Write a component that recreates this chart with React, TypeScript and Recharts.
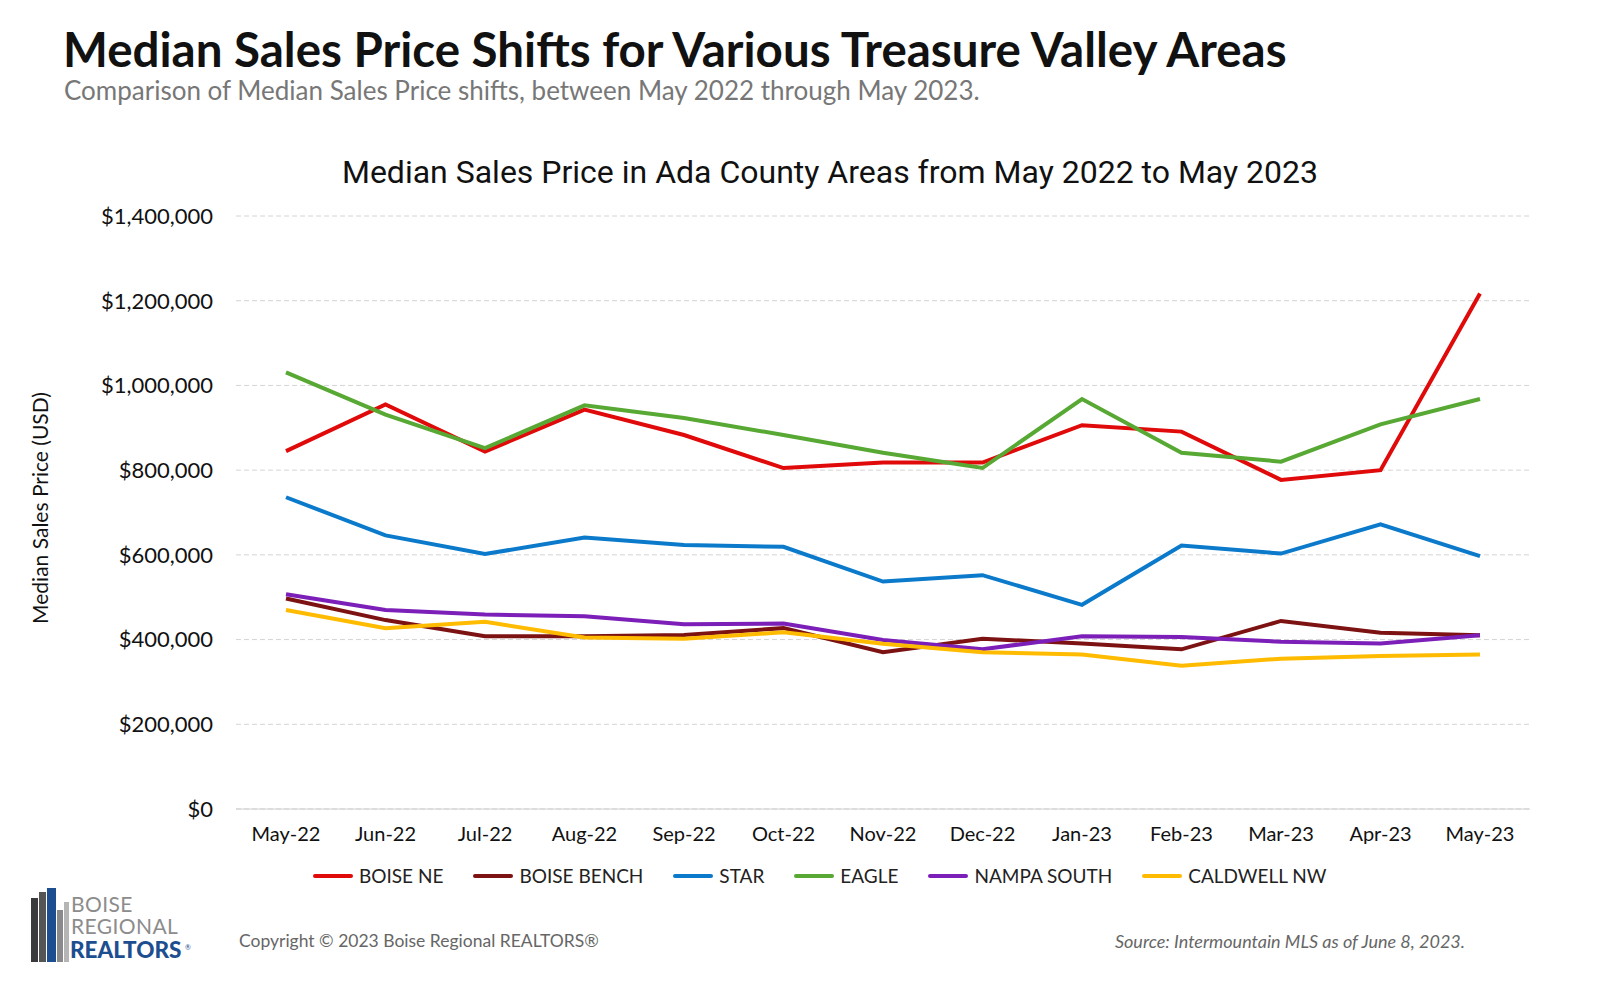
import React from 'react'
import { LineChart, Line, XAxis, YAxis, CartesianGrid } from 'recharts'

const months = ['May-22', 'Jun-22', 'Jul-22', 'Aug-22', 'Sep-22', 'Oct-22', 'Nov-22', 'Dec-22', 'Jan-23', 'Feb-23', 'Mar-23', 'Apr-23', 'May-23']

const boiseNE = [845000, 955000, 844000, 943000, 883000, 805000, 818000, 818000, 906000, 891000, 777000, 800000, 1217000]
const boiseBench = [497000, 446000, 408000, 408000, 411000, 427000, 370000, 402000, 391000, 377000, 444000, 416000, 410000]
const star = [736000, 646000, 602000, 641000, 623000, 619000, 537000, 552000, 482000, 622000, 603000, 672000, 597000]
const eagle = [1031000, 931000, 852000, 953000, 923000, 883000, 841000, 805000, 968000, 841000, 820000, 908000, 968000]
const nampaSouth = [507000, 470000, 459000, 455000, 436000, 438000, 399000, 377000, 408000, 406000, 395000, 391000, 410000]
const caldwellNW = [470000, 427000, 442000, 405000, 402000, 417000, 390000, 370000, 365000, 338000, 355000, 361000, 365000]

const yTicks = [0, 200000, 400000, 600000, 800000, 1000000, 1200000, 1400000]

const series = [
    { key: 'boiseNE', name: 'BOISE NE', color: '#e00a0a', values: boiseNE },
    { key: 'boiseBench', name: 'BOISE BENCH', color: '#7d1212', values: boiseBench },
    { key: 'star', name: 'STAR', color: '#0b7acb', values: star },
    { key: 'eagle', name: 'EAGLE', color: '#58a834', values: eagle },
    { key: 'nampaSouth', name: 'NAMPA SOUTH', color: '#7b1fb8', values: nampaSouth },
    { key: 'caldwellNW', name: 'CALDWELL NW', color: '#ffbb00', values: caldwellNW },
]

const data = months.map((m, i) => {
    const row: any = { month: m }
    series.forEach(s => { row[s.key] = s.values[i] })
    return row
})

const money = (v: number) => '$' + v.toLocaleString('en-US')

function Logo() {
    return (
        <svg width={180} height={80} style={{ position: 'absolute', left: 28, top: 888 }}>
            <rect x={3} y={10} width={7} height={64} fill="#3a3a3a" />
            <rect x={11} y={4} width={7} height={70} fill="#555" />
            <rect x={19} y={0} width={9} height={74} fill="#1d4e8f" />
            <rect x={29} y={22} width={6} height={52} fill="#8a8a8a" />
            <rect x={36} y={14} width={5} height={60} fill="#b5b5b5" />
            <text x={43} y={24} fontFamily="Lato" fontSize={21} letterSpacing={0.4} fill="#8c8c8c">BOISE</text>
            <text x={43} y={46} fontFamily="Lato" fontSize={21} letterSpacing={0.4} fill="#8c8c8c">REGIONAL</text>
            <text x={42} y={70} fontFamily="Lato" fontWeight={900} fontSize={22.5} fill="#1d4e8f">REALTORS</text>
            <text x={157} y={62} fontFamily="Lato" fontSize={7} fill="#1d4e8f">®</text>
        </svg>
    )
}

export default function App() {
    return (
        <div style={{ position: 'absolute', left: 0, top: 0, width: 1597, height: 985, background: '#fff', fontFamily: 'Lato, sans-serif', overflow: 'hidden' }}>
            <div style={{ position: 'absolute', left: 63, top: 20, fontSize: 47.5, fontWeight: 700, color: '#111', whiteSpace: 'nowrap' }}>
                Median Sales Price Shifts for Various Treasure Valley Areas
            </div>
            <div style={{ position: 'absolute', left: 64, top: 74, fontSize: 26, color: '#777', whiteSpace: 'nowrap' }}>
                Comparison of Median Sales Price shifts, between May 2022 through May 2023.
            </div>
            <div style={{ position: 'absolute', left: 0, width: 1660, top: 153, textAlign: 'center', fontFamily: 'Roboto', fontSize: 32, color: '#111', whiteSpace: 'nowrap' }}>
                Median Sales Price in Ada County Areas from May 2022 to May 2023
            </div>
            <div style={{ position: 'absolute', left: 39, top: 508, transform: 'translate(-50%, -50%) rotate(-90deg)', fontSize: 21, color: '#111', whiteSpace: 'nowrap' }}>
                Median Sales Price (USD)
            </div>

            <div style={{ position: 'absolute', left: 0, top: 0 }}>
                <LineChart width={1597} height={860} data={data} margin={{ top: 216, right: 67, bottom: 21, left: 36 }}>
                    <CartesianGrid horizontal vertical={false} stroke="#d4d4d4" strokeDasharray="5 3" />
                    <XAxis
                        dataKey="month"
                        padding={{ left: 50, right: 50 }}
                        axisLine={{ stroke: '#d0d0d0' }}
                        tickLine={false}
                        tickMargin={12}
                        interval={0}
                        tick={{ fill: '#111', fontSize: 20, fontFamily: 'Lato' }}
                    />
                    <YAxis
                        width={200}
                        domain={[0, 1400000]}
                        ticks={yTicks}
                        tickFormatter={money}
                        axisLine={false}
                        tickLine={false}
                        tickMargin={17}
                        tick={{ fill: '#111', fontSize: 22, fontFamily: 'Lato' }}
                    />
                    {series.map(s => (
                        <Line
                            key={s.key}
                            type="linear"
                            dataKey={s.key}
                            name={s.name}
                            stroke={s.color}
                            strokeWidth={4}
                            dot={false}
                            activeDot={false}
                            isAnimationActive={false}
                        />
                    ))}
                </LineChart>
            </div>

            <div style={{ position: 'absolute', left: 313, top: 864, display: 'flex', alignItems: 'center', fontSize: 19, color: '#222', whiteSpace: 'nowrap' }}>
                {series.map(s => (
                    <div key={s.key} style={{ display: 'flex', alignItems: 'center', marginRight: 30 }}>
                        <div style={{ width: 40, height: 4, borderRadius: 2, background: s.color, marginRight: 6 }} />
                        <span>{s.name}</span>
                    </div>
                ))}
            </div>

            <Logo />
            <div style={{ position: 'absolute', left: 239, top: 930, fontSize: 17.5, color: '#666', whiteSpace: 'nowrap' }}>
                Copyright © 2023 Boise Regional REALTORS®
            </div>
            <div style={{ position: 'absolute', right: 132, top: 930, fontSize: 18, color: '#666', fontStyle: 'italic', whiteSpace: 'nowrap' }}>
                Source: Intermountain MLS as of June 8, 2023.
            </div>
        </div>
    )
}
